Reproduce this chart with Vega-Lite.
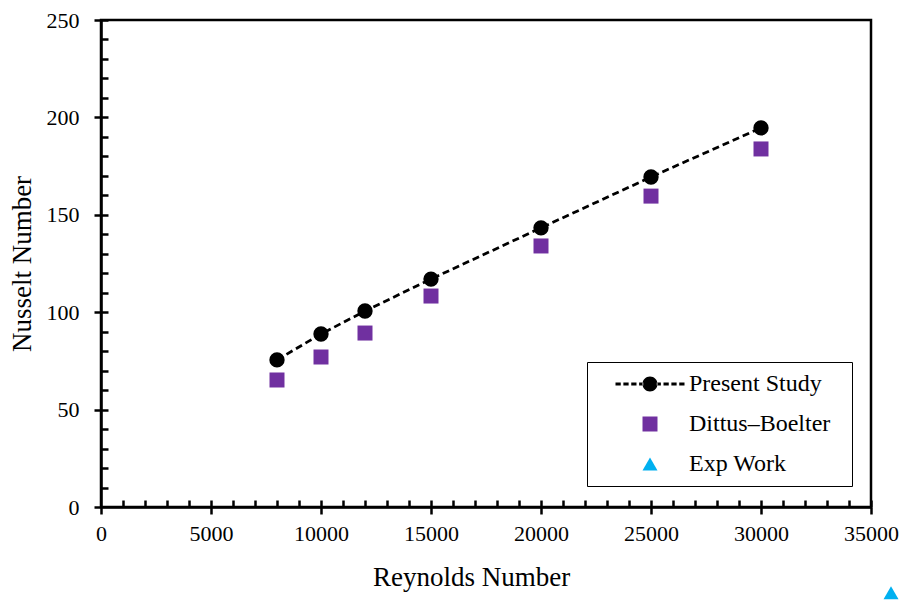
{
  "$schema": "https://vega.github.io/schema/vega-lite/v6.json",
  "width": 770,
  "height": 487,
  "autosize": {"type": "none"},
  "padding": {"left": 101, "top": 20, "right": 33, "bottom": 93},
  "background": "white",
  "config": {
    "view": {"stroke": "black", "strokeWidth": 2.5},
    "font": "Liberation Serif",
    "axis": {
      "domainColor": "black",
      "domainWidth": 2.5,
      "tickColor": "black",
      "tickWidth": 2.5,
      "grid": false,
      "labelFont": "Liberation Serif",
      "labelFontSize": 22,
      "labelColor": "black",
      "titleFont": "Liberation Serif",
      "titleFontSize": 27,
      "titleFontWeight": "normal",
      "titleColor": "black"
    }
  },
  "data": {
    "values": [
      {"series": "Present Study", "Re": 8000, "Nu": 75.5},
      {"series": "Present Study", "Re": 10000, "Nu": 88.8},
      {"series": "Present Study", "Re": 12000, "Nu": 100.6},
      {"series": "Present Study", "Re": 15000, "Nu": 117},
      {"series": "Present Study", "Re": 20000, "Nu": 143.3},
      {"series": "Present Study", "Re": 25000, "Nu": 169.4},
      {"series": "Present Study", "Re": 30000, "Nu": 194.6},
      {"series": "Dittus–Boelter", "Re": 8000, "Nu": 65.2},
      {"series": "Dittus–Boelter", "Re": 10000, "Nu": 77},
      {"series": "Dittus–Boelter", "Re": 12000, "Nu": 89.3},
      {"series": "Dittus–Boelter", "Re": 15000, "Nu": 108.3},
      {"series": "Dittus–Boelter", "Re": 20000, "Nu": 134},
      {"series": "Dittus–Boelter", "Re": 25000, "Nu": 159.6},
      {"series": "Dittus–Boelter", "Re": 30000, "Nu": 183.8},
      {"series": "Exp Work", "Re": 35910, "Nu": -44}
    ]
  },
  "resolve": {"axis": {"x": "independent", "y": "independent"}},
  "layer": [
    {
      "transform": [{"filter": "datum.series === 'Present Study'"}],
      "mark": {"type": "line", "color": "black", "strokeWidth": 2.75, "strokeDash": [7, 4]},
      "encoding": {
        "x": {
          "field": "Re", "type": "quantitative",
          "scale": {"domain": [0, 35000], "nice": false, "zero": false},
          "axis": {
            "orient": "bottom",
            "title": "Reynolds Number",
            "format": "d",
            "values": [0, 5000, 10000, 15000, 20000, 25000, 30000, 35000],
            "tickSize": 7,
            "labelPadding": 9,
            "titlePadding": 20,
            "titleX": 370,
            "labelFlush": false,
            "labelOverlap": false
          }
        },
        "y": {
          "field": "Nu", "type": "quantitative",
          "scale": {"domain": [0, 250], "nice": false, "zero": false},
          "axis": {
            "orient": "left",
            "title": "Nusselt Number",
            "format": "d",
            "values": [0, 50, 100, 150, 200, 250],
            "tickSize": 7,
            "labelPadding": 15,
            "titlePadding": 10,
            "labelFlush": false,
            "labelOverlap": false
          }
        }
      }
    },
    {
      "transform": [{"filter": "datum.series === 'Present Study'"}],
      "mark": {"type": "point", "shape": "circle", "filled": true, "opacity": 1, "size": 235, "clip": false},
      "encoding": {
        "x": {
          "field": "Re", "type": "quantitative",
          "axis": {
            "orient": "bottom",
            "title": null,
            "labels": false,
            "domain": false,
            "values": [1000,2000,3000,4000,5000,6000,7000,8000,9000,10000,11000,12000,13000,14000,15000,16000,17000,18000,19000,20000,21000,22000,23000,24000,25000,26000,27000,28000,29000,30000,31000,32000,33000,34000,35000],
            "tickSize": -7
          }
        },
        "y": {
          "field": "Nu", "type": "quantitative",
          "axis": {
            "orient": "left",
            "title": null,
            "labels": false,
            "domain": false,
            "values": [10,20,30,40,50,60,70,80,90,100,110,120,130,140,150,160,170,180,190,200,210,220,230,240,250],
            "tickSize": -7
          }
        },
        "color": {
          "field": "series", "type": "nominal",
          "scale": {"domain": ["Present Study", "Dittus–Boelter", "Exp Work"], "range": ["black", "#7030A0", "#00B0F0"]}
        }
      }
    },
    {
      "transform": [{"filter": "datum.series !== 'Present Study'"}],
      "mark": {"type": "point", "filled": true, "opacity": 1, "size": 225, "clip": false},
      "encoding": {
        "x": {"field": "Re", "type": "quantitative", "axis": null},
        "y": {"field": "Nu", "type": "quantitative", "axis": null},
        "color": {
          "field": "series", "type": "nominal",
          "scale": {"domain": ["Present Study", "Dittus–Boelter", "Exp Work"], "range": ["black", "#7030A0", "#00B0F0"]},
          "legend": {
            "title": "\u00a0",
            "titleOrient": "right",
            "titleFontSize": 1,
            "titlePadding": 12,
            "orient": "none",
            "legendX": 486,
            "legendY": 342,
            "strokeColor": "black",
            "fillColor": "white",
            "padding": 10,
            "labelFont": "Liberation Serif",
            "labelFontSize": 24,
            "labelColor": "black",
            "rowPadding": 16,
            "symbolOffset": 41,
            "labelOffset": 27,
            "symbolSize": 225,
            "symbolStrokeWidth": 0,
            "encode": {
              "legend": {"strokeWidth": {"value": 1.5}}
            }
          }
        },
        "shape": {
          "field": "series", "type": "nominal",
          "scale": {"domain": ["Present Study", "Dittus–Boelter", "Exp Work"], "range": ["M-1,0A1,1 0 1,0 1,0A1,1 0 1,0 -1,0Z M-4.6,-0.2H-3.9V0.2H-4.6Z M-3.55,-0.2H-2.85V0.2H-3.55Z M-2.5,-0.2H-1.8V0.2H-2.5Z M-1.45,-0.2H-0.9V0.2H-1.45Z M0.9,-0.2H1.45V0.2H0.9Z M1.8,-0.2H2.5V0.2H1.8Z M2.85,-0.2H3.55V0.2H2.85Z M3.9,-0.2H4.6V0.2H3.9Z", "square", "triangle-up"]},
          "legend": null
        }
      }
    }
  ]
}
